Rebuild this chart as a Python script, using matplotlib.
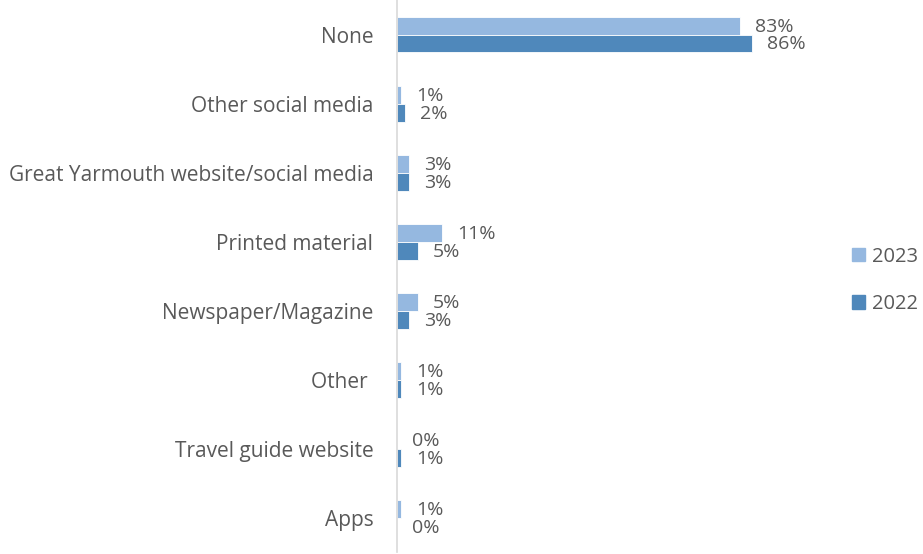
import numpy as np
import matplotlib.pyplot as plt
from matplotlib.patches import Patch

categories = ["None", "Other social media", "Great Yarmouth website/social media",
              "Printed material", "Newspaper/Magazine", "Other ",
              "Travel guide website", "Apps"]
vals_2023 = [83, 1, 3, 11, 5, 1, 0, 1]
vals_2022 = [86, 2, 3, 5, 3, 1, 1, 0]

c_2023 = "#95B8E0"
c_2022 = "#4F88BB"
text_c = "#595959"

plt.rcParams["font.family"] = ["Open Sans", "DejaVu Sans"]

fig = plt.figure(figsize=(9.23, 5.54), dpi=100)
ax = fig.add_axes([0.430, 0.003, 0.4475, 0.997])

y = np.arange(len(categories))
h = 0.26
b23 = ax.barh(y - h / 2, vals_2023, height=h, color=c_2023, edgecolor="white", linewidth=0.6)
b22 = ax.barh(y + h / 2, vals_2022, height=h, color=c_2022, edgecolor="white", linewidth=0.6)

# value labels a little to the right of each bar end
for bars, vals in ((b23, vals_2023), (b22, vals_2022)):
    for bar, v in zip(bars, vals):
        ax.annotate(f"{v}%", (v, bar.get_y() + bar.get_height() / 2),
                    xytext=(15, -1), textcoords="offset pixels",
                    ha="left", va="center", fontsize=14, color=text_c)

ax.set_xlim(0, 100)
ax.set_ylim(len(categories) - 0.5, -0.5)
ax.set_yticks(y)
ax.set_yticklabels(categories, fontsize=15, color=text_c)
ax.tick_params(axis="y", length=0, pad=17)
ax.set_xticks([])
for s in ["top", "right", "bottom"]:
    ax.spines[s].set_visible(False)
ax.spines["left"].set_color("#D9D9D9")
ax.spines["left"].set_linewidth(1.2)

handles = [Patch(color=c_2023, label="2023"), Patch(color=c_2022, label="2022")]
fig.legend(handles=handles, loc="center left", bbox_to_anchor=(0.914, 0.494),
           frameon=False, fontsize=14.5, labelcolor=text_c, handlelength=0.65,
           handleheight=0.65, handletextpad=0.35, labelspacing=1.35,
           borderaxespad=0)

fig.savefig("out.png", dpi=100)
